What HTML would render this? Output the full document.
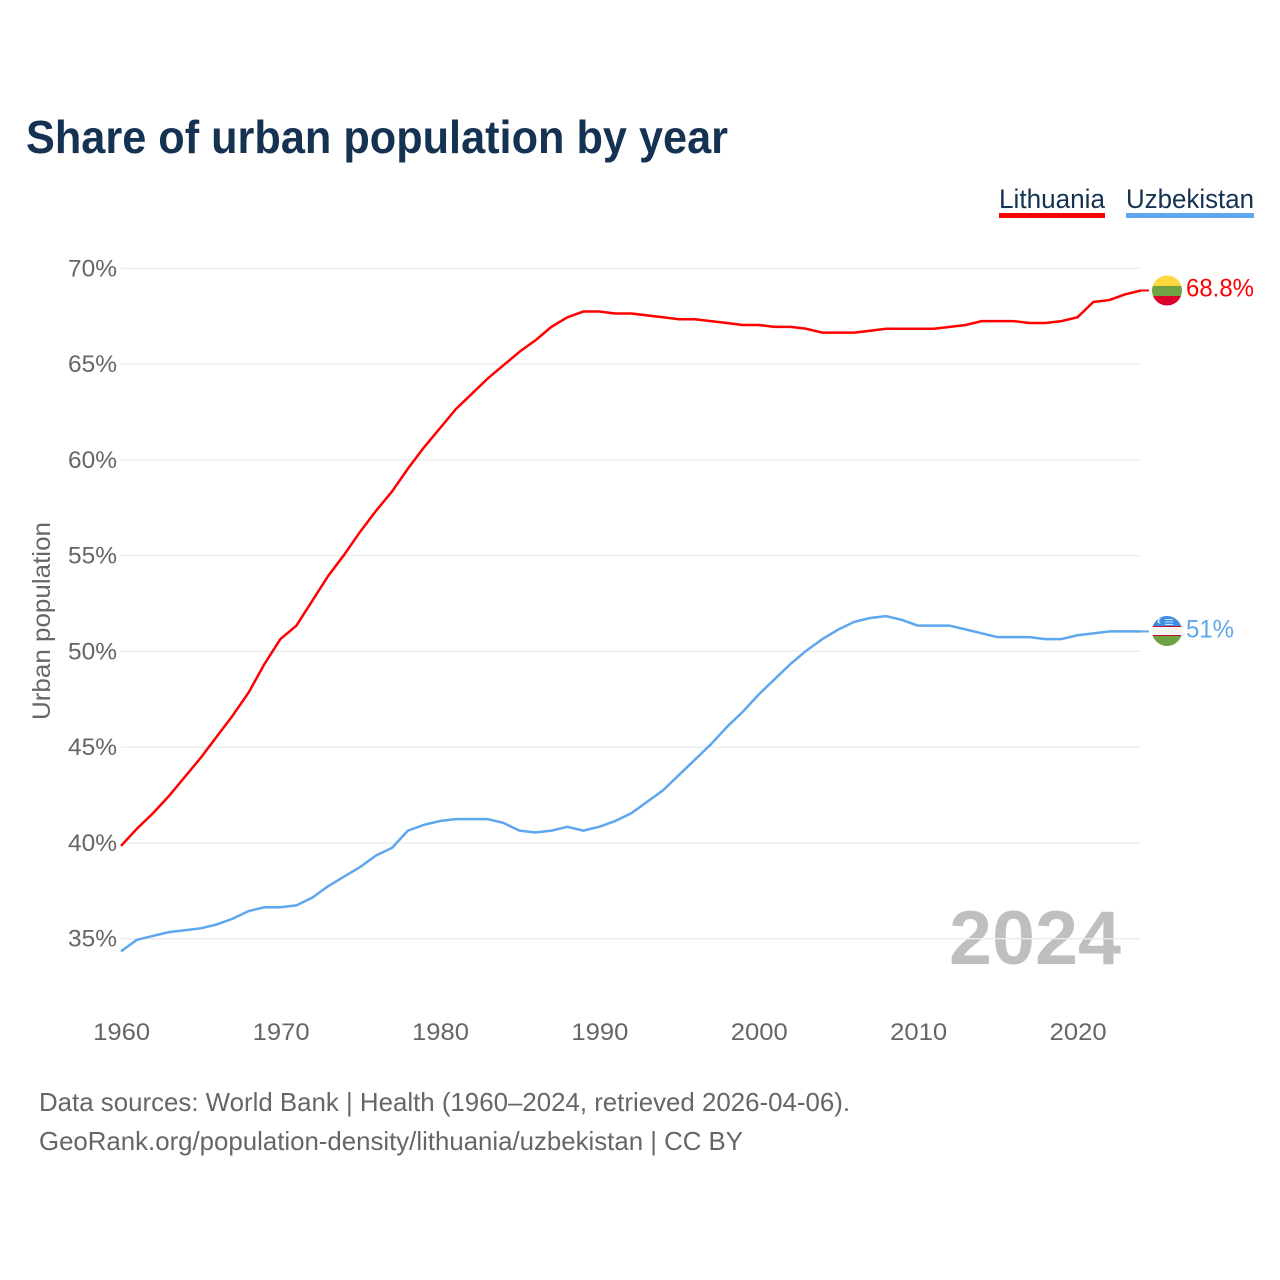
<!DOCTYPE html>
<html lang="en">
<head>
<meta charset="utf-8">
<title>Share of urban population by year</title>
<style>
html,body{margin:0;padding:0;background:#fff;width:1280px;height:1280px;overflow:hidden}
svg{display:block}
text{font-family:"Liberation Sans",sans-serif}
</style>
</head>
<body>
<svg id="chart" width="1280" height="1280" viewBox="0 0 1280 1280" xmlns="http://www.w3.org/2000/svg">
  <defs>
    <clipPath id="clip-lt"><circle cx="1167" cy="290.5" r="15"/></clipPath>
    <clipPath id="clip-uz"><circle cx="1167" cy="631" r="15"/></clipPath>
  </defs>
  <text x="26" y="153" font-size="46" font-weight="700" fill="#163253" textLength="702" lengthAdjust="spacingAndGlyphs">Share of urban population by year</text>

  <g>
    <text x="999" y="208" font-size="27" fill="#163253" textLength="106" lengthAdjust="spacingAndGlyphs">Lithuania</text>
    <rect x="999" y="213" width="106" height="5" fill="#ff0000"/>
  </g>
  <g>
    <text x="1126" y="208" font-size="27" fill="#163253" textLength="128" lengthAdjust="spacingAndGlyphs">Uzbekistan</text>
    <rect x="1126" y="213" width="128" height="5" fill="#5ea6ee"/>
  </g>

  <text x="1121" y="964" text-anchor="end" font-size="76" font-weight="700" fill="#bfbfbf" textLength="172" lengthAdjust="spacingAndGlyphs">2024</text>

  <g id="grid"></g>
  <g id="y-ticks"></g>
  <g id="x-ticks"></g>
  <text transform="translate(50,621) rotate(-90)" text-anchor="middle" font-size="25" fill="#666666" textLength="198" lengthAdjust="spacingAndGlyphs">Urban population</text>

  <g id="series"></g>

  <g clip-path="url(#clip-lt)">
    <rect x="1152" y="275" width="30" height="11" fill="#fdd83f"/>
    <rect x="1152" y="286" width="30" height="10" fill="#6fa243"/>
    <rect x="1152" y="296" width="30" height="11" fill="#d9002b"/>
  </g>
  <g clip-path="url(#clip-uz)">
    <rect x="1152" y="616" width="30" height="11" fill="#3d8fe6"/>
    <rect x="1152" y="627" width="30" height="9" fill="#f7f5f5"/>
    <rect x="1152" y="626" width="30" height="1" fill="#c8102e"/>
    <rect x="1152" y="635" width="30" height="1" fill="#c8102e"/>
    <rect x="1152" y="636" width="30" height="11" fill="#6fa243"/>
    <circle cx="1160" cy="621" r="2.500" fill="#ffffff" opacity="0.9"/>
    <circle cx="1161.500" cy="621" r="2.300" fill="#3d8fe6"/>
    <rect x="1165" y="619" width="8" height="1" fill="#cfe3f8"/>
    <rect x="1165" y="621.500" width="8" height="1" fill="#cfe3f8"/>
    <rect x="1165" y="624" width="8" height="1" fill="#cfe3f8"/>
  </g>

  <text x="1186" y="296.500" font-size="25" fill="#ff0000" textLength="68" lengthAdjust="spacingAndGlyphs">68.8%</text>
  <text x="1186" y="637.500" font-size="25" fill="#5ea6ee" textLength="48" lengthAdjust="spacingAndGlyphs">51%</text>

  <text x="39" y="1111" font-size="26" fill="#666666" textLength="811" lengthAdjust="spacingAndGlyphs">Data sources: World Bank | Health (1960–2024, retrieved 2026-04-06).</text>
  <text x="39" y="1150" font-size="26" fill="#666666" textLength="704" lengthAdjust="spacingAndGlyphs">GeoRank.org/population-density/lithuania/uzbekistan | CC BY</text>
</svg>
<script>
const startYear = 1960;
const yTickValues = [35, 40, 45, 50, 55, 60, 65, 70];
const xTickYears = [1960, 1970, 1980, 1990, 2000, 2010, 2020];
const lithuaniaValues = [
  39.8, 40.7, 41.5, 42.4, 43.4, 44.4, 45.5, 46.6, 47.8, 49.3,
  50.6, 51.3, 52.6, 53.9, 55.0, 56.2, 57.3, 58.3, 59.5, 60.6,
  61.6, 62.6, 63.4, 64.2, 64.9, 65.6, 66.2, 66.9, 67.4, 67.7,
  67.7, 67.6, 67.6, 67.5, 67.4, 67.3, 67.3, 67.2, 67.1, 67.0,
  67.0, 66.9, 66.9, 66.8, 66.6, 66.6, 66.6, 66.7, 66.8, 66.8,
  66.8, 66.8, 66.9, 67.0, 67.2, 67.2, 67.2, 67.1, 67.1, 67.2,
  67.4, 68.2, 68.3, 68.6, 68.8
];
const uzbekistanValues = [
  34.3, 34.9, 35.1, 35.3, 35.4, 35.5, 35.7, 36.0, 36.4, 36.6,
  36.6, 36.7, 37.1, 37.7, 38.2, 38.7, 39.3, 39.7, 40.6, 40.9,
  41.1, 41.2, 41.2, 41.2, 41.0, 40.6, 40.5, 40.6, 40.8, 40.6,
  40.8, 41.1, 41.5, 42.1, 42.7, 43.5, 44.3, 45.1, 46.0, 46.8,
  47.7, 48.5, 49.3, 50.0, 50.6, 51.1, 51.5, 51.7, 51.8, 51.6,
  51.3, 51.3, 51.3, 51.1, 50.9, 50.7, 50.7, 50.7, 50.6, 50.6,
  50.8, 50.9, 51.0, 51.0, 51.0
];

const SVG_NS = 'http://www.w3.org/2000/svg';
function xScale(year) { return 121 + (year - 1960) * 15.94; }
function yScale(pct) { return 268.3 + (70 - pct) * 19.154; }
function lineY(pct) { return yScale(pct) - 0.8; }
function make(tag, attrs, parent) {
  const el = document.createElementNS(SVG_NS, tag);
  for (const k in attrs) el.setAttribute(k, attrs[k]);
  parent.appendChild(el);
  return el;
}

const grid = document.getElementById('grid');
const yTicks = document.getElementById('y-ticks');
yTickValues.forEach(function (v) {
  const line = make('line', { x1: 121, x2: 1141, y1: yScale(v), y2: yScale(v), stroke: '#ebebeb', 'stroke-width': 1.3 }, grid);
  
  
  const label = make('text', { x: 117, y: yScale(v) + 8, 'text-anchor': 'end', 'font-size': 24.5, fill: '#666666', textLength: 49, lengthAdjust: 'spacingAndGlyphs' }, yTicks);
  
  
  label.textContent = v + '%';
});

const xTicks = document.getElementById('x-ticks');
xTickYears.forEach(function (yr) {
  const label = make('text', { x: xScale(yr) + 0.7, y: 1040, 'text-anchor': 'middle', 'font-size': 24.5, fill: '#666666', textLength: 57, lengthAdjust: 'spacingAndGlyphs' }, xTicks);
  
  
  label.textContent = yr;
});

const seriesGroup = document.getElementById('series');
function drawSeries(values, color, name, stubEndX) {
  const pts = values.map(function (v, i) {
    return xScale(startYear + i).toFixed(2) + ',' + lineY(v).toFixed(2);
  });
  const path = make('polyline', { points: pts.join(' '), fill: 'none', stroke: color, 'stroke-width': 2.5, 'stroke-linejoin': 'round' }, seriesGroup);
  
  
  const lastY = lineY(values[values.length - 1]);
  const lastX = xScale(startYear + values.length - 1);
  const stub = make('line', { x1: lastX, x2: stubEndX, y1: lastY, y2: lastY, stroke: color, 'stroke-width': 2 }, seriesGroup);
  
  
}
drawSeries(lithuaniaValues, '#ff0000', 'line-lithuania', 1149);
drawSeries(uzbekistanValues, '#5ea6ee', 'line-uzbekistan', 1149);
</script>
</body>
</html>
